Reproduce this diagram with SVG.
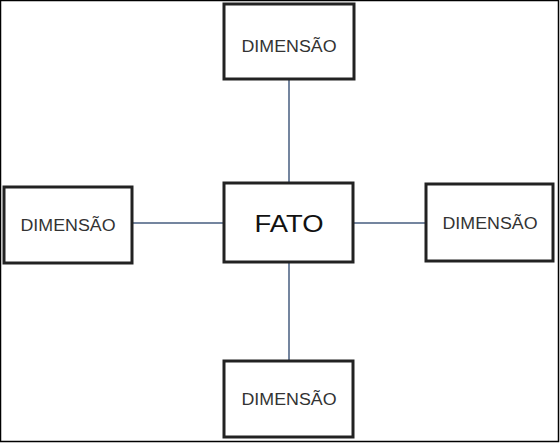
<svg xmlns="http://www.w3.org/2000/svg" width="560" height="443" viewBox="0 0 560 443">
<style>
.box{fill:#fff;stroke:#222;stroke-width:3}
.dim{font-family:"Liberation Sans",Arial,sans-serif;font-size:16px;fill:#333;text-anchor:middle}
.fato{font-family:"Liberation Sans",Arial,sans-serif;font-size:23px;fill:#111;text-anchor:middle}
.conn{stroke:#74859f;stroke-width:2;fill:none}
</style>
<rect x="0" y="0" width="560" height="443" fill="#fff"/>
<rect x="0.5" y="0.5" width="558" height="441" fill="none" stroke="#000" stroke-width="1.5"/>
<g id="connectors">
<line class="conn" x1="289" y1="79" x2="289" y2="183"/>
<line class="conn" x1="132" y1="223" x2="224" y2="223"/>
<line class="conn" x1="353" y1="223" x2="426" y2="223"/>
<line class="conn" x1="289" y1="262" x2="289" y2="361"/>
</g>
<g id="dim-top">
<rect class="box" x="224" y="4" width="130" height="75"/>
<text class="dim" x="289" y="52" textLength="95" lengthAdjust="spacingAndGlyphs">DIMENSÃO</text>
</g>
<g id="dim-left">
<rect class="box" x="4" y="187" width="128" height="76"/>
<text class="dim" x="68" y="231" textLength="95" lengthAdjust="spacingAndGlyphs">DIMENSÃO</text>
</g>
<g id="fato">
<rect class="box" x="224" y="183" width="129" height="79"/>
<text class="fato" x="289" y="232" textLength="69" lengthAdjust="spacingAndGlyphs">FATO</text>
</g>
<g id="dim-right">
<rect class="box" x="426" y="184" width="127" height="77"/>
<text class="dim" x="490" y="229" textLength="95" lengthAdjust="spacingAndGlyphs">DIMENSÃO</text>
</g>
<g id="dim-bottom">
<rect class="box" x="224" y="361" width="129" height="76"/>
<text class="dim" x="289" y="405" textLength="95" lengthAdjust="spacingAndGlyphs">DIMENSÃO</text>
</g>
</svg>
